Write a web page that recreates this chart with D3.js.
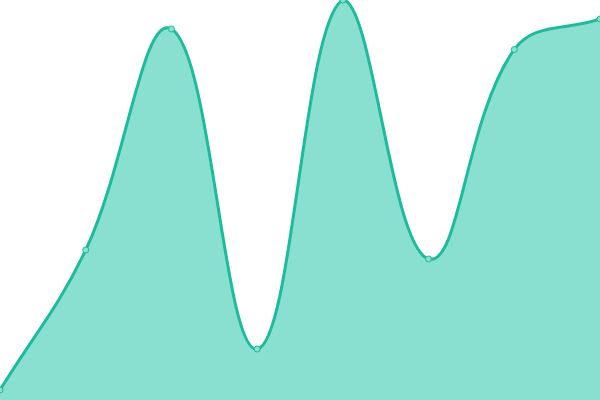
<!DOCTYPE html>
<html><head><meta charset="utf-8">
<script src="https://cdn.jsdelivr.net/npm/d3@7"></script>
<style>html,body{margin:0;padding:0;background:#fff;overflow:hidden}svg{display:block}</style>
</head><body>
<svg id="chart" width="600" height="400"></svg>
<script>
const categories = [0, 1, 2, 3, 4, 5, 6, 7];
const values = [10, 150, 371, 51, 400, 141, 350.5, 381];

const W = 600, H = 400;
const TENSION = 0.4;

// Distance-weighted spline with control points capped to the plot area
function SplineCurve(context) { this._context = context; }
SplineCurve.prototype = {
  areaStart() { this._line = 0; },
  areaEnd() { this._line = NaN; },
  lineStart() { this._x = []; this._y = []; },
  point(x, y) { this._x.push(+x); this._y.push(+y); },
  lineEnd() {
    const xs = this._x, ys = this._y, n = xs.length, ctx = this._context;
    if (n) {
      if (this._line) ctx.lineTo(xs[0], ys[0]); else ctx.moveTo(xs[0], ys[0]);
      const cps = [];
      for (let i = 0; i < n; i++) {
        const pi = Math.max(i - 1, 0), ni = Math.min(i + 1, n - 1);
        const px = xs[pi], py = ys[pi], cx = xs[i], cy = ys[i], nx = xs[ni], ny = ys[ni];
        const d01 = Math.hypot(cx - px, cy - py), d12 = Math.hypot(nx - cx, ny - cy);
        let s01 = d01 / (d01 + d12), s12 = d12 / (d01 + d12);
        if (isNaN(s01)) s01 = 0; if (isNaN(s12)) s12 = 0;
        const fa = TENSION * s01, fb = TENSION * s12;
        const clx = v => Math.max(0, Math.min(W, v)), cly = v => Math.max(0, Math.min(H, v));
        cps.push({
          px: clx(cx - fa * (nx - px)), py: cly(cy - fa * (ny - py)),
          nx: clx(cx + fb * (nx - px)), ny: cly(cy + fb * (ny - py))
        });
      }
      for (let i = 1; i < n; i++) {
        ctx.bezierCurveTo(cps[i - 1].nx, cps[i - 1].ny, cps[i].px, cps[i].py, xs[i], ys[i]);
      }
    }
    if (this._line || (this._line !== 0 && n === 1)) ctx.closePath();
    this._line = 1 - this._line;
  }
};
const curveSpline = context => new SplineCurve(context);

const svg = d3.select("#chart");
const x = d3.scaleLinear().domain([0, categories.length - 1]).range([0, W]);
const y = d3.scaleLinear().domain([0, 400]).range([H, 0]);
const data = categories.map((c, i) => ({c, v: values[i]}));

svg.append("path").datum(data)
  .attr("d", d3.area().x(d => x(d.c)).y0(H).y1(d => y(d.v)).curve(curveSpline))
  .attr("fill", "#8ae0d0");
svg.append("path").datum(data)
  .attr("d", d3.line().x(d => x(d.c)).y(d => y(d.v)).curve(curveSpline))
  .attr("fill", "none").attr("stroke", "#1abc9c").attr("stroke-width", 3);
svg.selectAll("circle.pt").data(data).enter().append("circle")
  .attr("class", "pt")
  .attr("cx", d => x(d.c)).attr("cy", d => y(d.v)).attr("r", 3)
  .attr("fill", "#8ae0d0").attr("stroke", "#1abc9c").attr("stroke-width", 1);
</script>
</body></html>
